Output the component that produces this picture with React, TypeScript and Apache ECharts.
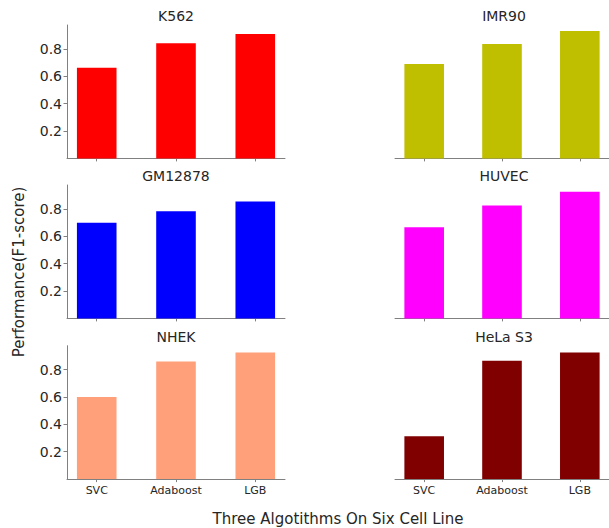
import React, { useEffect, useRef } from "react";
import * as echarts from "echarts";

const categories = ["SVC", "Adaboost", "LGB"];
const cellLines = ["K562", "IMR90", "GM12878", "HUVEC", "NHEK", "HeLa S3"];
const k562 = [0.662, 0.84, 0.908];
const imr90 = [0.689, 0.835, 0.93];
const gm12878 = [0.698, 0.783, 0.853];
const huvec = [0.666, 0.824, 0.924];
const nhek = [0.599, 0.858, 0.924];
const hela = [0.313, 0.865, 0.924];
const seriesValues = [k562, imr90, gm12878, huvec, nhek, hela];
const colors = ["#ff0000", "#bfbf00", "#0000ff", "#ff00ff", "#ffa07a", "#800000"];
const yTicks = [0.2, 0.4, 0.6, 0.8];
const yTitle = "Performance(F1-score)";
const xTitle = "Three Algotithms On Six Cell Line";

const FONT = "DejaVu Sans";
const TEXT = "#262626";
const AXIS = "#808080";

export default function App() {
  const ref = useRef<HTMLDivElement>(null);
  useEffect(() => {
    if (!ref.current) return;
    const chart = echarts.init(ref.current, null, { renderer: "svg" });
    const lefts = [67, 395];
    const tops = [25, 185, 345.7];
    const W = 218;
    const H = 133.4;
    const grids: any[] = [];
    const xAxes: any[] = [];
    const yAxes: any[] = [];
    const series: any[] = [];
    const graphics: any[] = [];
    cellLines.forEach((name, i) => {
      const col = i % 2;
      const row = Math.floor(i / 2);
      grids.push({ left: lefts[col], top: tops[row], width: W, height: H, containLabel: false });
      xAxes.push({
        type: "value",
        gridIndex: i,
        min: -0.375,
        max: 2.375,
        splitLine: { show: false },
        axisLine: { show: true, onZero: false, lineStyle: { color: AXIS, width: 1 } },
        axisTick: { show: true, length: 3, customValues: [0, 1, 2], lineStyle: { color: AXIS } },
        axisLabel: {
          show: row === 2,
          customValues: [0, 1, 2],
          formatter: (v: number) => categories[Math.round(v)] ?? "",
          color: TEXT,
          fontFamily: FONT,
          fontSize: 11,
          margin: 6,
        },
      });
      yAxes.push({
        type: "value",
        gridIndex: i,
        min: 0,
        max: 0.974,
        splitLine: { show: false },
        axisLine: { show: col === 0, onZero: false, lineStyle: { color: AXIS, width: 1 } },
        axisTick: { show: col === 0, length: 3.5, customValues: yTicks, lineStyle: { color: AXIS } },
        axisLabel: {
          show: col === 0,
          customValues: yTicks,
          formatter: (v: number) => v.toFixed(1),
          color: TEXT,
          fontFamily: FONT,
          fontSize: 14,
          margin: 5,
        },
      });
      series.push({
        type: "bar",
        xAxisIndex: i,
        yAxisIndex: i,
        barWidth: 39.6,
        itemStyle: { color: colors[i] },
        data: seriesValues[i].map((v, j) => [j, v]),
      });
      graphics.push({
        type: "text",
        x: lefts[col] + W / 2,
        y: tops[row] - 9,
        style: {
          text: name,
          fill: TEXT,
          fontFamily: FONT,
          fontSize: 14,
          fontWeight: "normal",
          textAlign: "center",
          textVerticalAlign: "middle",
        },
      });
    });
    graphics.push({
      type: "text",
      x: 19,
      y: 272,
      rotation: Math.PI / 2,
      style: {
        text: yTitle,
        fill: TEXT,
        fontFamily: FONT,
        fontSize: 15,
        fontWeight: "normal",
        textAlign: "center",
        textVerticalAlign: "middle",
      },
    });
    graphics.push({
      type: "text",
      x: 338,
      y: 519,
      style: {
        text: xTitle,
        fill: TEXT,
        fontFamily: FONT,
        fontSize: 15,
        fontWeight: "normal",
        textAlign: "center",
        textVerticalAlign: "middle",
      },
    });
    chart.setOption({
      animation: false,
      backgroundColor: "#ffffff",
      grid: grids,
      xAxis: xAxes,
      yAxis: yAxes,
      series,
      graphic: graphics,
    });
    return () => chart.dispose();
  }, []);
  return (
    <div
      ref={ref}
      style={{ position: "fixed", left: 0, top: 0, width: 609, height: 528 }}
    />
  );
}
